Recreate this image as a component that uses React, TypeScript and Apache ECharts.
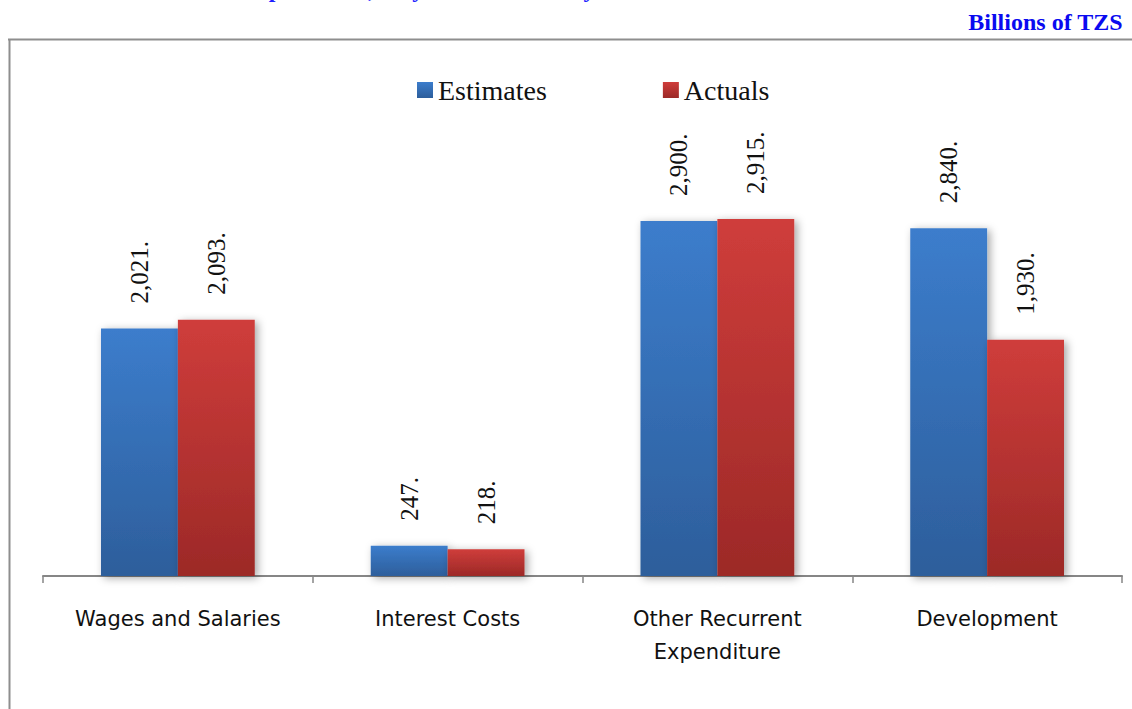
import React, { useEffect, useRef } from "react";
import * as echarts from "echarts";

const categories = ["Wages and Salaries", "Interest Costs", "Other Recurrent\nExpenditure", "Development"];
const estimates = [2021, 247, 2900, 2840];
const actuals = [2093, 218, 2915, 1930];
const seriesNames = ["Estimates", "Actuals"];
const unitLabel = "Billions of TZS";
const titleText = "Chart 4: Government Expenditure, July 2010 to January 2011";

const fmt = (v: number) => v.toLocaleString("en-US") + ".";

export default function App() {
  const ref = useRef<HTMLDivElement>(null);
  useEffect(() => {
    if (!ref.current) return;
    const chart = echarts.init(ref.current, undefined, { renderer: "svg" });
    const blue = new echarts.graphic.LinearGradient(0, 0, 0, 1, [
      { offset: 0, color: "#3C7DCC" },
      { offset: 1, color: "#2D5E9B" },
    ]);
    const red = new echarts.graphic.LinearGradient(0, 0, 0, 1, [
      { offset: 0, color: "#CF3D3B" },
      { offset: 1, color: "#9C2927" },
    ]);
    const label = {
      show: true,
      position: "top" as const,
      rotate: 90,
      align: "left" as const,
      verticalAlign: "middle" as const,
      distance: 25,
      fontFamily: "Liberation Serif",
      fontSize: 25,
      color: "#111",
      formatter: (p: any) => fmt(p.value),
    };
    chart.setOption({
      animation: false,
      backgroundColor: "#fff",
      graphic: [
        {
          type: "text",
          left: 12,
          top: -23,
          style: { text: titleText, fill: "#1F1FFF", font: "bold 24px 'Liberation Serif'" },
        },
        {
          type: "text",
          right: 9,
          top: 10,
          style: { text: unitLabel, fill: "#0A0AF0", font: "bold 24px 'Liberation Serif'" },
        },
        {
          type: "line",
          shape: { x1: 8, y1: 39.5, x2: 1132, y2: 39.5 },
          style: { stroke: "#8E8E8E", lineWidth: 2 },
        },
        {
          type: "line",
          shape: { x1: 9.5, y1: 39, x2: 9.5, y2: 709 },
          style: { stroke: "#8E8E8E", lineWidth: 2 },
        },
      ],
      legend: {
        top: 71,
        left: 412,
        itemWidth: 16,
        itemHeight: 16,
        itemGap: 116,
        icon: "rect",
        textStyle: { fontFamily: "Liberation Serif", fontSize: 28, color: "#111", padding: [0, 0, 0, 0] },
        data: [
          { name: seriesNames[0], itemStyle: { color: blue } },
          { name: seriesNames[1], itemStyle: { color: red } },
        ],
      },
      grid: { left: 43, right: 10, top: 147.5, bottom: 133 },
      xAxis: {
        type: "category",
        data: categories,
        axisLine: { lineStyle: { color: "#868686", width: 2 } },
        axisTick: { show: true, length: 7, lineStyle: { color: "#868686", width: 1.5 } },
        axisLabel: {
          margin: 26,
          fontFamily: "DejaVu Sans",
          fontSize: 21,
          lineHeight: 33,
          color: "#111",
        },
      },
      yAxis: {
        type: "value",
        min: 0,
        max: 3500,
        show: false,
        splitLine: { show: false },
      },
      series: [
        {
          name: seriesNames[0],
          type: "bar",
          data: estimates,
          barGap: "0%",
          barCategoryGap: "43%",
          itemStyle: { color: blue, shadowBlur: 8, shadowColor: "rgba(0,0,0,0.35)", shadowOffsetX: 3, shadowOffsetY: 2 },
          label,
        },
        {
          name: seriesNames[1],
          type: "bar",
          data: actuals,
          barGap: "0%",
          barCategoryGap: "43%",
          itemStyle: { color: red, shadowBlur: 8, shadowColor: "rgba(0,0,0,0.35)", shadowOffsetX: 3, shadowOffsetY: 2 },
          label,
        },
      ],
    });
    return () => chart.dispose();
  }, []);
  return (
    <div
      ref={ref}
      style={{ position: "fixed", left: 0, top: 0, width: 1132, height: 709 }}
    />
  );
}
